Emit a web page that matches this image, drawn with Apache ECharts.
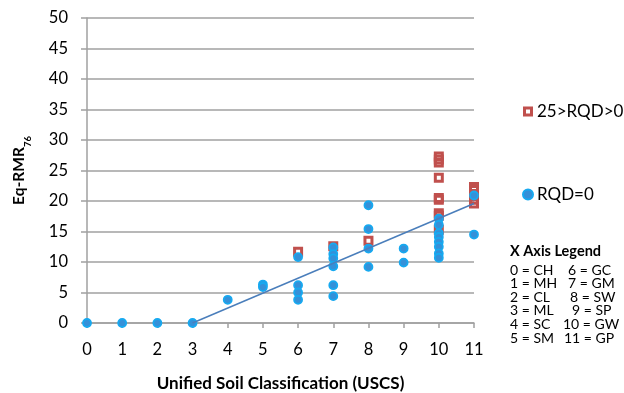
<!DOCTYPE html>
<html>
<head>
<meta charset="utf-8">
<script src="https://cdn.jsdelivr.net/npm/echarts@6/dist/echarts.min.js"></script>
<style>
  html, body { margin: 0; padding: 0; background: #fff; }
  #chart { width: 624px; height: 393px; }
</style>
</head>
<body>
<div id="chart"></div>
<script>
// USCS class index (0..11) vs. Eq-RMR76
const xTicks = [0, 1, 2, 3, 4, 5, 6, 7, 8, 9, 10, 11];
const yTicks = [0, 5, 10, 15, 20, 25, 30, 35, 40, 45, 50];

// 25 > RQD > 0
const rqdLowX = [6, 7, 8, 10, 10, 10, 10, 10, 10, 10, 10, 10, 11, 11, 11, 11];
const rqdLowY = [11.7, 12.6, 13.5, 27.3, 26.8, 26.3, 23.8, 20.5, 20.2, 18.0, 17.6, 15.3, 22.3, 21.8, 20.2, 19.6];

// RQD = 0
const rqdZeroX = [0, 1, 2, 3, 4, 5, 5, 6, 6, 6, 6, 7, 7, 7, 7, 7, 7, 8, 8, 8, 8, 9, 9, 10, 10, 10, 10, 10, 10, 10, 10, 11, 11];
const rqdZeroY = [0, 0, 0, 0, 3.8, 6.3, 5.9, 10.8, 6.2, 5.0, 3.8, 12.4, 11.3, 10.6, 9.3, 6.2, 4.4, 19.3, 15.4, 12.2, 9.2, 12.2, 9.9, 17.1, 16.1, 14.7, 14.1, 13.3, 12.5, 11.4, 10.7, 20.9, 14.5];

// Linear trend line end points
const trendX = [3, 11];
const trendY = [0, 19.6];

// USCS code key
const keyLeft = ['0 = CH', '1 = MH', '2 = CL', '3 = ML', '4 = SC', '5 = SM'];
const keyRight = ['6 = GC', '7 = GM', '8 = SW', '9 = SP', '10 = GW', '11 = GP'];

const zip = (xs, ys) => xs.map((x, i) => [x, ys[i]]);

const FONT = 'Lato';
const AXIS_GRAY = '#a0a0a0';
const TICK_SIZE = 16.5;
// hollow square marker: outer square with a square hole
const SQUARE_RING = 'path://M0,0L10,0L10,10L0,10Z M3,3L3,7L7,7L7,3Z';

const chart = echarts.init(document.getElementById('chart'), null, { renderer: 'canvas' });

const keyGraphics = [{
  type: 'text', left: 510, top: 244,
  style: { text: 'X Axis Legend', font: 'bold 14.5px ' + FONT, fill: '#000' }
}];
const rightX = [568, 568, 570, 572, 563, 564];
keyLeft.forEach((t, i) => {
  keyGraphics.push({
    type: 'text', left: 510, top: 263 + i * 13.6,
    style: { text: t, font: '14px ' + FONT, fill: '#000' }
  });
  keyGraphics.push({
    type: 'text', left: rightX[i], top: 263 + i * 13.6,
    style: { text: keyRight[i], font: '14px ' + FONT, fill: '#000' }
  });
});

chart.setOption({
  animation: false,
  textStyle: { fontFamily: FONT },
  grid: { left: 87, right: 150, top: 18, bottom: 70, containLabel: false, outerBoundsMode: 'none' },
  legend: {
    data: ['25>RQD>0', 'RQD=0'],
    orient: 'vertical',
    left: 517, top: 98,
    itemWidth: 10, itemHeight: 10,
    itemGap: 66,
    textStyle: { fontFamily: FONT, fontSize: 17, color: '#000', padding: [0, 0, 0, -1] }
  },
  xAxis: {
    type: 'value', min: 0, max: 11, interval: 1,
    name: 'Unified Soil Classification (USCS)',
    nameLocation: 'middle', nameGap: 52,
    nameTextStyle: { fontFamily: FONT, fontSize: 17, fontWeight: 'bold', color: '#000' },
    axisLine: { show: true, lineStyle: { color: AXIS_GRAY, width: 1.5 } },
    axisTick: { show: true, length: 5, lineStyle: { color: AXIS_GRAY, width: 1.5 } },
    axisLabel: { fontSize: TICK_SIZE, color: '#000', margin: 18, formatter: v => xTicks.includes(v) ? String(v) : '' },
    splitLine: { show: false }
  },
  yAxis: {
    type: 'value', min: 0, max: 50, interval: 5,
    name: '{a|Eq-RMR}{b|76}',
    nameLocation: 'middle', nameGap: 58, nameRotate: 90,
    nameTextStyle: {
      rich: {
        a: { fontFamily: FONT, fontSize: 15.5, fontWeight: 'bold', color: '#000', lineHeight: 20, verticalAlign: 'middle' },
        b: { fontFamily: FONT, fontSize: 9.5, fontWeight: 'bold', color: '#000', lineHeight: 20, verticalAlign: 'bottom', padding: [0, 0, -4, 0] }
      }
    },
    axisLine: { show: true, lineStyle: { color: AXIS_GRAY, width: 1.5 } },
    axisTick: { show: true, length: 6, lineStyle: { color: AXIS_GRAY, width: 1.5 } },
    axisLabel: { fontSize: TICK_SIZE, color: '#000', margin: 19, formatter: v => yTicks.includes(v) ? String(v) : '' },
    splitLine: { show: true, lineStyle: { color: AXIS_GRAY, width: 1.5 } }
  },
  series: [
    {
      name: '25>RQD>0', type: 'scatter', z: 2,
      symbol: SQUARE_RING, symbolSize: 10,
      itemStyle: { color: '#c0504d', opacity: 1 },
      data: zip(rqdLowX, rqdLowY)
    },
    {
      name: 'RQD=0', type: 'scatter', z: 3,
      symbol: 'circle', symbolSize: 8,
      itemStyle: { color: '#3590d8', borderColor: '#17a9f0', borderWidth: 1.8, opacity: 1 },
      data: zip(rqdZeroX, rqdZeroY)
    },
    {
      name: 'trend', type: 'line', z: 4,
      showSymbol: false, symbol: 'none',
      lineStyle: { color: '#4a7ebb', width: 1.5 },
      data: zip(trendX, trendY)
    }
  ],
  graphic: keyGraphics
});
</script>
</body>
</html>
